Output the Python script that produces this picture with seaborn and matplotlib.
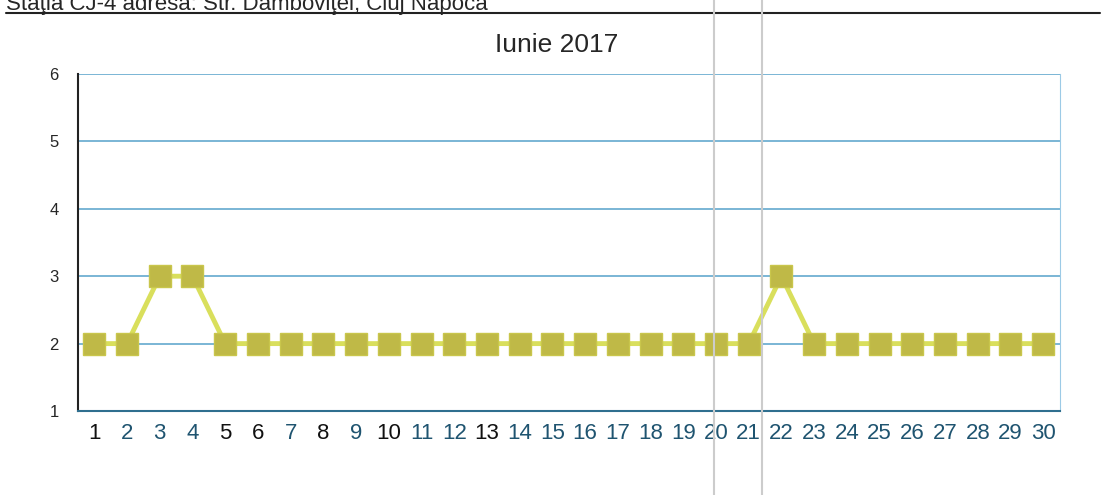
import numpy as np
import pandas as pd
from matplotlib import pyplot as plt
import seaborn as sns

# daily values, June 2017 (station CJ-4)
days = list(range(1, 31))
values = [2, 2, 3, 3, 2, 2, 2, 2, 2, 2,
          2, 2, 2, 2, 2, 2, 2, 2, 2, 2,
          2, 3, 2, 2, 2, 2, 2, 2, 2, 2]
y_ticks = [1, 2, 3, 4, 5, 6]
header = 'Staţia CJ-4 adresa: Str. Dâmboviţei, Cluj Napoca'
title = 'Iunie 2017'

df = pd.DataFrame({'zi': days, 'valoare': values})

sns.set_style('white')
plt.rcParams['font.family'] = ['Liberation Sans', 'DejaVu Sans']

fig = plt.figure(figsize=(11.06, 4.95), dpi=100)
ax = fig.add_axes([0.0705, 0.1697, 0.8875, 0.6808])

sns.lineplot(data=df, x='zi', y='valoare', ax=ax, color='#d9df5c', linewidth=3.5,
             marker='s', markersize=15.5, markerfacecolor='#bfb947',
             markeredgecolor='#c9c64c', markeredgewidth=1)

ax.set_xlim(0.5, 30.5)
ax.set_ylim(1, 6)
ax.set_xticks(days)
ax.set_xticks(np.arange(0.5, 31, 1), minor=True)
ax.set_yticks(y_ticks)
ax.set_xlabel('')
ax.set_ylabel('')

for gy in y_ticks[1:]:
    ax.axhline(gy, color='#6fb0d2', linewidth=1.3, zorder=0)

ax.tick_params(axis='x', which='major', length=0, pad=9, labelsize=16)
ax.tick_params(axis='x', which='minor', length=5, direction='out', color='#555555', width=1)
ax.tick_params(axis='y', length=6, direction='out', color='#7fb5d0', labelsize=12, pad=8)

dark = [1, 5, 6, 8, 10, 13]
for lab, d in zip(ax.get_xticklabels(), days):
    lab.set_color('#111111' if d in dark else '#1f5470')

ax.spines['left'].set_color('#222222')
ax.spines['left'].set_linewidth(1.5)
ax.spines['bottom'].set_color('#2f6f8f')
ax.spines['bottom'].set_linewidth(1.5)
ax.spines['right'].set_color('#9ccae6')
ax.spines['top'].set_visible(False)

fig.text(557 / 1106, 0.895, title, ha='center', va='baseline', fontsize=19)
fig.text(0.005, 0.979, header, ha='left', va='baseline', fontsize=16)
fig.add_artist(plt.Line2D([0.005, 0.995], [0.974, 0.974], color='#222222', linewidth=1.5))

# scanner streaks
for sx in [714, 762]:
    fig.add_artist(plt.Line2D([sx / 1106, sx / 1106], [0, 1], color='#cccccc', linewidth=1.5))

fig.savefig('out.png', dpi=100)
